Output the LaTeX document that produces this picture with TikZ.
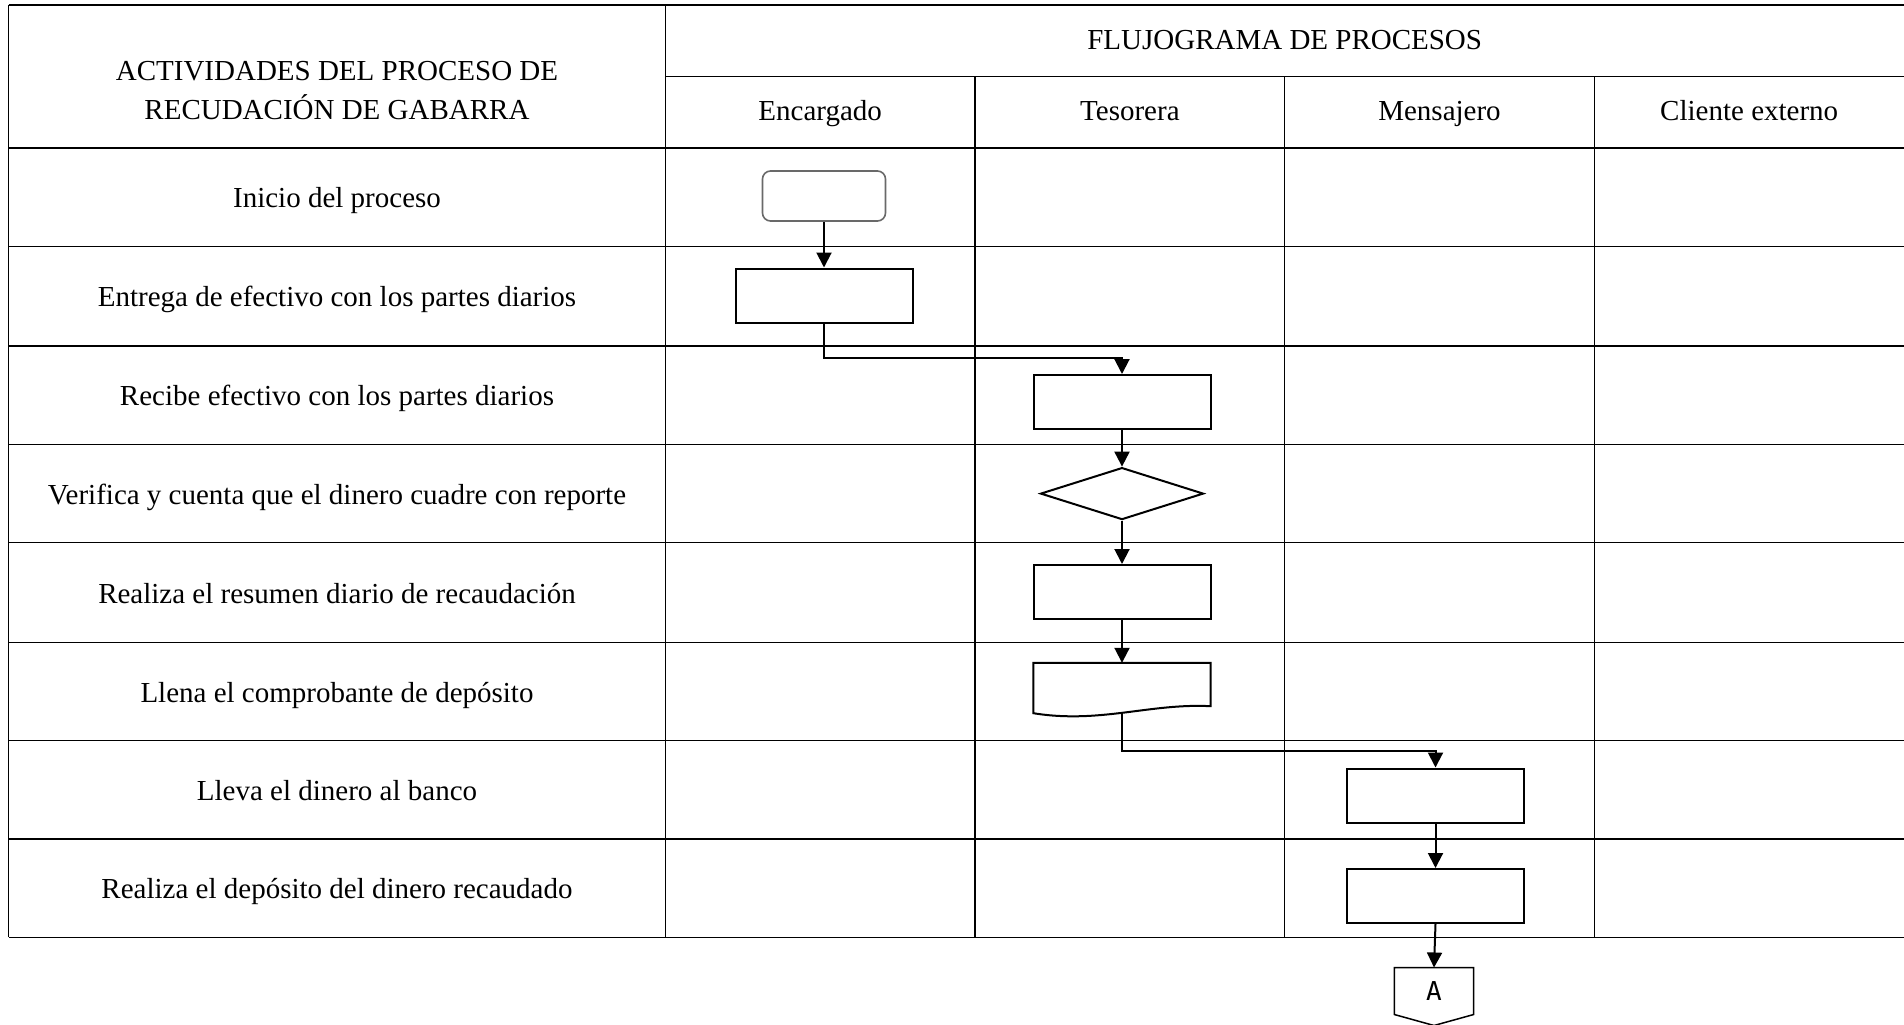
\documentclass[tikz,border=0pt]{standalone}
\usepackage{fontspec}
\setmainfont{Liberation Serif}
\newfontfamily\connfont{DejaVu Sans Mono}
\usetikzlibrary{calc,positioning,arrows.meta,shapes.geometric}

\begin{document}
\begin{tikzpicture}[
		x=1pt,
		y=-1pt,
		line join=miter,
		>={Triangle[length=15pt,width=15pt]},
		gridline/.style={line width=1.3pt},
		celltext/.style={font=\fontsize{29}{39}\selectfont, align=center},
		rowtext/.style={font=\fontsize{29}{39}\selectfont, anchor=base},
		procbox/.style={draw, line width=2pt, minimum width=177pt, minimum height=54pt, inner sep=0pt},
		startbox/.style={draw={rgb,255:red,105;green,105;blue,105}, line width=1.6pt, rounded corners=8pt,
			minimum width=123pt, minimum height=50pt, inner sep=0pt},
		decisionbox/.style={draw, diamond, line width=2pt, minimum width=163pt, minimum height=52pt, inner sep=0pt},
		flow/.style={->, line width=2pt}
		]
		
		\useasboundingbox (0,0) rectangle (1904,1025);
		
		%------------------------------------------------------------------
		% Table
		%------------------------------------------------------------------
		\draw[gridline] (8.5,5) -- (1904,5);
		\draw[gridline] (8.5,5) -- (8.5,937.4);
		\draw[gridline] (665.4,5) -- (665.4,937.4);
		\draw[gridline] (665.4,76.5) -- (1904,76.5);
		
		% Lane dividers
		\foreach \xl in {975.1,1284.7,1594.4}
		\draw[gridline] (\xl,76.5) -- (\xl,937.4);
		
		% Row lines
		\foreach \yl in {148.1,246.5,346.0,444.4,542.8,642.4,740.7,839.1,937.4}
		\draw[gridline] (8.5,\yl) -- (1904,\yl);
		
		%------------------------------------------------------------------
		% Headers
		%------------------------------------------------------------------
		\node[celltext] (hAct) at (337,91) {ACTIVIDADES DEL PROCESO DE\\RECUDACIÓN DE GABARRA};
		\node[rowtext] (hFlujo) at (1284.7,50) {FLUJOGRAMA DE PROCESOS};
		
		\node[rowtext] (lEnc) at ( 820.2,120.5) {Encargado};
		\node[rowtext] (lTes) at (1129.9,120.5) {Tesorera};
		\node[rowtext] (lMen) at (1439.5,120.5) {Mensajero};
		\node[rowtext] (lCli) at (1749.2,120.5) {Cliente externo};
		
		%------------------------------------------------------------------
		% Activities
		%------------------------------------------------------------------
		\node[rowtext] (a1) at (337,207.8) {Inicio del proceso};
		\node[rowtext] (a2) at (337,306.7) {Entrega de efectivo con los partes diarios};
		\node[rowtext] (a3) at (337,405.7) {Recibe efectivo con los partes diarios};
		\node[rowtext] (a4) at (337,504.1) {Verifica y cuenta que el dinero cuadre con reporte};
		\node[rowtext] (a5) at (337,603.1) {Realiza el resumen diario de recaudación};
		\node[rowtext] (a6) at (337,702.0) {Llena el comprobante de depósito};
		\node[rowtext] (a7) at (337,800.4) {Lleva el dinero al banco};
		\node[rowtext] (a8) at (337,898.7) {Realiza el depósito del dinero recaudado};
		
		%------------------------------------------------------------------
		% Flowchart shapes
		%------------------------------------------------------------------
		\node[startbox] (inicio) at (824,196) {};
		\node[procbox] (entrega) at (824,295.5) {};
		
		\node[procbox] (recibe) at (1122,402) {};
		\node[decisionbox] (verifica) at (1122,493.6) {};
		\node[procbox] (resumen) at (1122,592) {};
		
		% Document shape (wavy bottom)
		\node[minimum width=177pt, minimum height=50pt, inner sep=0pt] (comprob) at (1122,688) {};
		\draw[line width=2pt] (comprob.north west) -- (comprob.north east)
		-- ($(comprob.south east)+(0,-7)$)
		.. controls (1150,703) and (1100,724) .. (comprob.south west) -- cycle;
		
		\node[procbox] (lleva) at (1435.5,795.5) {};
		\node[procbox] (deposito) at (1435.5,896) {};
		
		% Off-page connector
		\node[minimum width=79pt, minimum height=46.6pt, inner sep=0pt,
		font=\connfont\fontsize{26}{28}\selectfont] (conA) at (1434,991) {A};
		\draw[line width=1.5pt] (conA.north west) -- (conA.north east) -- (conA.south east)
		-- ($(conA.south)+(0,11)$) -- (conA.south west) -- cycle;
		
		%------------------------------------------------------------------
		% Connectors
		%------------------------------------------------------------------
		\draw[flow] (inicio.south) -- (entrega.north);
		\draw[flow] (entrega.south) -- ++(0,34) -| (recibe.north);
		\draw[flow] (recibe.south) -- (verifica.north);
		\draw[flow] (verifica.south) -- (resumen.north);
		\draw[flow] (resumen.south) -- (comprob.north);
		\draw[flow] (comprob.south) -- ++(0,38) -| (lleva.north);
		\draw[flow] (lleva.south) -- (deposito.north);
		\draw[flow] (deposito.south) -- (conA.north);
		
	\end{tikzpicture}
\end{document}
